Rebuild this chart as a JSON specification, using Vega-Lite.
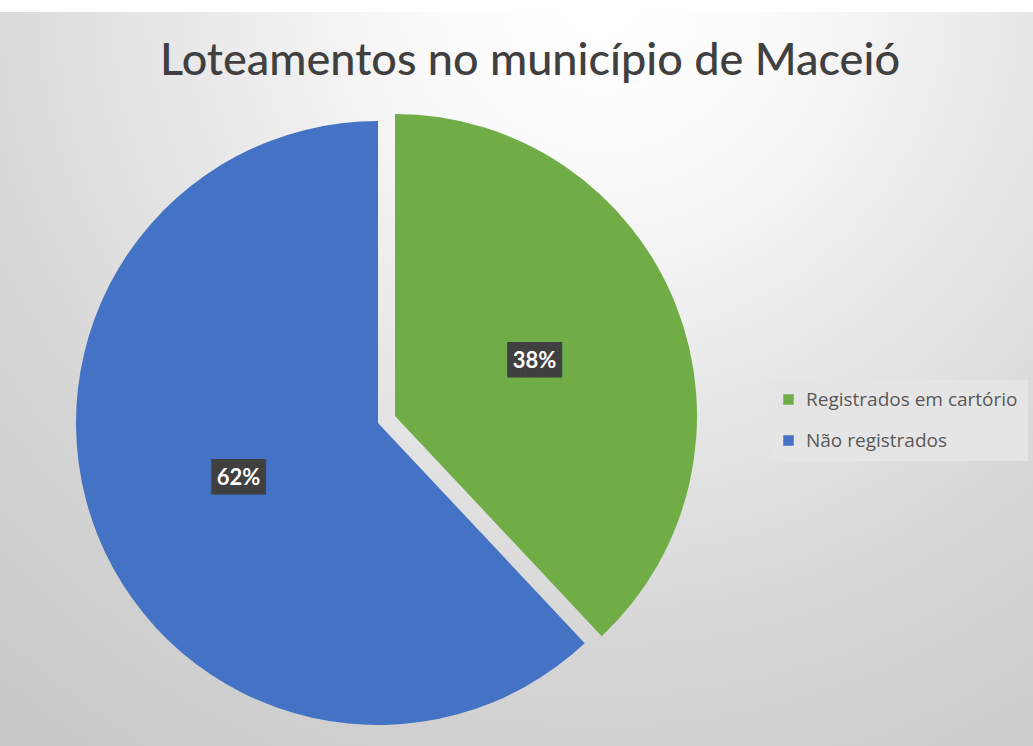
{
  "$schema": "https://vega.github.io/schema/vega-lite/v6.json",
  "autosize": "none",
  "width": 1310,
  "height": 822,
  "padding": {"left": -277, "top": 12, "right": 0, "bottom": -88},
  "background": "#ffffff",
  "view": {"stroke": null, "fill": {"gradient": "radial", "x1": 0.67, "y1": 0.17, "x2": 0.67, "y2": 0.17, "r1": 0, "r2": 0.85, "stops": [{"offset": 0, "color": "#ffffff"}, {"offset": 0.15, "color": "#fbfbfb"}, {"offset": 0.6, "color": "#d5d5d5"}, {"offset": 1, "color": "#c0c0c0"}]}},
  "title": {"text": "Loteamentos no município de Maceió", "font": "Lato", "fontSize": 45, "fontWeight": 500, "color": "#404040", "anchor": "middle", "dx": 152, "offset": 36, "dy": 153, "baseline": "bottom"},
  "data": {"values": [
    {"categoria": "Registrados em cartório", "proporcao": 0.38, "ordem": 1},
    {"categoria": "Não registrados", "proporcao": 0.62, "ordem": 2}
  ]},
  "encoding": {
    "theta": {"field": "proporcao", "type": "quantitative", "stack": true},
    "order": {"field": "ordem", "type": "quantitative"}
  },
  "layer": [
    {
      "mark": {"type": "arc", "radius": 302},
      "encoding": {
        "color": {"field": "categoria", "type": "nominal",
          "scale": {"domain": ["Registrados em cartório", "Não registrados"], "range": ["#70ad47", "#4472c4"]},
          "legend": {"orient": "none", "legendX": 1046, "legendY": 368, "title": null, "fillColor": "#e5e5e5", "padding": 10, "symbolType": "square", "symbolSize": 110, "symbolStrokeWidth": 0, "labelFont": "Open Sans", "labelFontSize": 19, "labelColor": "#595959", "labelLimit": 400, "rowPadding": 21, "labelOffset": 8}},
        "opacity": {"condition": {"test": "datum.ordem == 2", "value": 1}, "value": 0}
      }
    },
    {
      "mark": {"type": "arc", "radius": 302, "xOffset": 17, "yOffset": -7},
      "encoding": {
        "color": {"field": "categoria", "type": "nominal"},
        "opacity": {"condition": {"test": "datum.ordem == 1", "value": 1}, "value": 0}
      }
    },
    {
      "mark": {"type": "text", "radius": 150, "font": "DejaVu Sans Mono", "fontSize": 30, "baseline": "middle", "align": "center", "color": "#404040"},
      "encoding": {
        "text": {"value": "███"},
        "opacity": {"condition": {"test": "datum.ordem == 2", "value": 1}, "value": 0}
      }
    },
    {
      "mark": {"type": "text", "radius": 150, "xOffset": 17, "yOffset": -7, "font": "DejaVu Sans Mono", "fontSize": 30, "baseline": "middle", "align": "center", "color": "#404040"},
      "encoding": {
        "text": {"value": "███"},
        "opacity": {"condition": {"test": "datum.ordem == 1", "value": 1}, "value": 0}
      }
    },
    {
      "mark": {"type": "text", "radius": 150, "font": "Lato", "fontSize": 22, "fontWeight": "bold", "baseline": "middle", "align": "center", "color": "#ffffff"},
      "encoding": {
        "text": {"field": "proporcao", "type": "quantitative", "format": ".0%"},
        "opacity": {"condition": {"test": "datum.ordem == 2", "value": 1}, "value": 0}
      }
    },
    {
      "mark": {"type": "text", "radius": 150, "xOffset": 17, "yOffset": -7, "font": "Lato", "fontSize": 22, "fontWeight": "bold", "baseline": "middle", "align": "center", "color": "#ffffff"},
      "encoding": {
        "text": {"field": "proporcao", "type": "quantitative", "format": ".0%"},
        "opacity": {"condition": {"test": "datum.ordem == 1", "value": 1}, "value": 0}
      }
    }
  ]
}
